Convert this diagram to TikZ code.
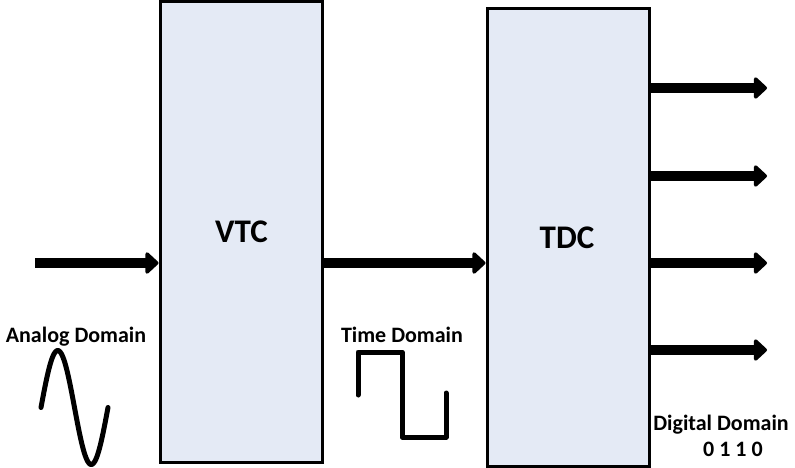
\documentclass[tikz,border=0pt]{standalone}
\usepackage{fontspec}
\setmainfont{Carlito}
\usetikzlibrary{arrows.meta}
\definecolor{boxfill}{HTML}{E4EAF5}
\tikzset{
  x=1pt, y=-1pt,
  blockbox/.style={draw=black, line width=3pt, fill=boxfill, inner sep=0pt,
    font=\fontsize{33pt}{36pt}\selectfont\bfseries},
  lbl/.style={font=\fontsize{22pt}{26pt}\selectfont\bfseries, inner sep=0pt, anchor=base},
  arr/.style={line width=10pt, -{Triangle[length=14pt,width=25pt,round]}},
  wave/.style={line width=5pt, line cap=round, line join=round},
}
\begin{document}
\begin{tikzpicture}
\useasboundingbox (0,0) rectangle (795,468);
% blocks
\node[blockbox, minimum width=162pt, minimum height=460pt] (vtc) at (241,232) {};
\node[blockbox, minimum width=162pt, minimum height=457pt] (tdc) at (568,237.5) {};
\node[lbl, font=\fontsize{33pt}{36pt}\selectfont\bfseries] (vtct) at (241.5,242) {VTC};
\node[lbl, font=\fontsize{33pt}{36pt}\selectfont\bfseries] (tdct) at (567,248) {TDC};
% connectors
\coordinate (in) at (35,263);
\coordinate (m) at (0,263);
\draw[arr] (in) -- (in -| vtc.west);
\draw[arr] (vtc.east |- m) -- (tdc.west |- m);
\coordinate (o1) at (767,88);
\coordinate (o2) at (767,176);
\coordinate (o3) at (767,263);
\coordinate (o4) at (767,350);
\foreach \o in {o1,o2,o3,o4}
  \draw[arr] (tdc.east |- \o) -- (\o);
% labels
\node[lbl] (analog) at (76,342) {Analog Domain};
\node[lbl] (time) at (402,342) {Time Domain};
\node[lbl] (digital) at (721,430) {Digital Domain};
\node[lbl] (bits) at (733,456) {0 1 1 0};
% waves
\draw[wave] plot[domain=0:360, samples=80, smooth] ({41+\x/360*67}, {407.5-57*sin(\x)});
\draw[wave] (358,395) -- (358,352) -- (402,352) -- (402,437) -- (446,437) -- (446,393);
\end{tikzpicture}
\end{document}
